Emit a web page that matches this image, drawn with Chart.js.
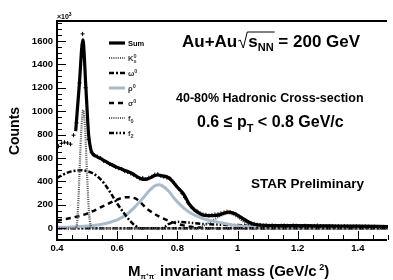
<!DOCTYPE html>
<html>
<head>
<meta charset="utf-8">
<script src="https://cdn.jsdelivr.net/npm/chart.js@4.4.0/dist/chart.umd.min.js"></script>
<style>
  html, body { margin: 0; padding: 0; background: #fff; }
  #wrap { width: 393px; height: 280px; }
</style>
</head>
<body>
<div id="wrap"><canvas id="massChart"></canvas></div>
<script>
// measured spectrum (crosses)
const dataMass = [0.405, 0.415, 0.425, 0.435, 0.445, 0.455, 0.465, 0.475, 0.485, 0.495,
    0.505, 0.515, 0.525, 0.535, 0.545, 0.555, 0.565, 0.575, 0.585, 0.595,
    0.605, 0.615, 0.625, 0.635, 0.645, 0.655, 0.665, 0.675, 0.685, 0.695,
    0.705, 0.715, 0.725, 0.735, 0.745, 0.755, 0.765, 0.775, 0.785, 0.795,
    0.805, 0.815, 0.825, 0.835, 0.845, 0.855, 0.865, 0.875, 0.885, 0.895,
    0.905, 0.915, 0.925, 0.935, 0.945, 0.955, 0.965, 0.975, 0.985, 0.995,
    1.005, 1.015, 1.025, 1.035, 1.045, 1.055, 1.065, 1.075, 1.085, 1.095,
    1.105, 1.115, 1.125, 1.135, 1.145, 1.155, 1.165, 1.175, 1.185, 1.195,
    1.205, 1.215, 1.225, 1.235, 1.245, 1.255, 1.265, 1.275, 1.285, 1.295,
    1.305, 1.315, 1.325, 1.335, 1.345, 1.355, 1.365, 1.375, 1.385, 1.395,
    1.405, 1.415, 1.425, 1.435, 1.445, 1.455, 1.465, 1.475, 1.485, 1.495];
const dataCounts = [700, 725, 735, 728, 718, 795, 900, 1240, 1660, 1200,
    760, 650, 625, 612, 600, 575, 565, 548, 540, 522,
    512, 505, 488, 480, 468, 455, 440, 425, 430, 420,
    432, 440, 458, 462, 448, 440, 432, 428, 400, 365,
    335, 300, 262, 218, 185, 160, 148, 130, 118, 115,
    108, 112, 118, 120, 128, 135, 142, 138, 130, 118,
    100, 82, 65, 52, 40, 38, 30, 28, 25, 24,
    22, 25, 22, 20, 22, 24, 22, 20, 24, 22,
    20, 18, 22, 20, 18, 20, 24, 20, 18, 16,
    20, 18, 16, 18, 15, 18, 16, 14, 15, 16,
    14, 12, 15, 14, 12, 14, 12, 10, 12, 10];

// fit sum
const sumMass = [0.462, 0.474, 0.486, 0.496, 0.505, 0.511, 0.516, 0.53, 0.55, 0.58, 0.60, 0.62, 0.65, 0.67,
    0.685, 0.70, 0.72, 0.735, 0.75, 0.765, 0.78, 0.80, 0.82, 0.84, 0.86, 0.88, 0.90, 0.93, 0.955,
    0.97, 0.985, 1.0, 1.02, 1.04, 1.06, 1.08, 1.1, 1.2, 1.3, 1.4, 1.5];
const sumCounts = [830, 1220, 1608, 1200, 800, 690, 645, 615, 588, 545, 520, 500, 468, 435,
    418, 420, 445, 455, 447, 440, 412, 350, 295, 205, 150, 118, 108, 110, 128,
    138, 130, 112, 80, 50, 32, 26, 24, 22, 20, 18, 15];

// components
const k0Mass = [0.40, 0.462, 0.468, 0.474, 0.48, 0.487, 0.494, 0.50, 0.506, 0.512, 0.516, 1.5];
const k0Counts = [0, 0, 80, 420, 800, 1010, 820, 450, 150, 20, 0, 0];

const omegaMass = [0.40, 0.42, 0.44, 0.46, 0.48, 0.50, 0.52, 0.54, 0.56, 0.58, 0.60, 0.62, 0.64, 0.66, 0.68, 1.5];
const omegaCounts = [430, 458, 480, 492, 495, 488, 468, 430, 372, 295, 212, 138, 72, 22, 0, 0];

const rhoMass = [0.40, 0.45, 0.50, 0.55, 0.60, 0.63, 0.66, 0.69, 0.71, 0.73, 0.74, 0.75, 0.77, 0.79,
    0.81, 0.83, 0.85, 0.87, 0.90, 0.95, 1.0, 1.05, 1.1, 1.15, 1.5];
const rhoCounts = [8, 12, 20, 35, 72, 115, 185, 270, 330, 368, 372, 362, 320, 255,
    200, 155, 122, 98, 72, 45, 22, 10, 4, 0, 0];

const sigmaMass = [0.40, 0.45, 0.50, 0.55, 0.60, 0.63, 0.66, 0.70, 0.74, 0.78, 0.82, 0.86, 0.90, 1.5];
const sigmaCounts = [65, 90, 125, 185, 245, 265, 255, 165, 100, 55, 25, 8, 0, 0];

const f0Mass = [0.40, 0.86, 0.88, 0.90, 0.92, 0.94, 0.96, 0.97, 0.98, 1.0, 1.02, 1.04, 1.06, 1.08, 1.5];
const f0Counts = [0, 0, 15, 40, 72, 102, 122, 127, 122, 95, 55, 25, 8, 0, 0];

const f2Mass = [0.40, 0.75, 0.77, 0.80, 0.83, 0.88, 0.95, 1.05, 1.2, 1.35, 1.5];
const f2Counts = [0, 0, 35, 55, 50, 38, 30, 25, 20, 16, 12];

const xTickValues = [0.4, 0.6, 0.8, 1.0, 1.2, 1.4];
const yTickValues = [0, 200, 400, 600, 800, 1000, 1200, 1400, 1600];

const FONT = '"Liberation Sans", Arial, Helvetica, sans-serif';
const pts = (xs, ys) => xs.map((x, i) => ({ x: x, y: ys[i] }));

function curve(label, xs, ys, color, width, dash, order) {
    return {
        label: label,
        data: pts(xs, ys),
        borderColor: color,
        borderWidth: width,
        borderDash: dash,
        pointRadius: 0,
        fill: false,
        cubicInterpolationMode: 'monotone',
        order: order
    };
}

// draws a run of text pieces on one baseline, returns end x
function rich(ctx, parts, x, y) {
    parts.forEach(p => {
        ctx.font = 'bold ' + p.size + 'px ' + FONT;
        ctx.fillText(p.t, x, y + (p.dy || 0));
        x += ctx.measureText(p.t).width;
    });
    return x;
}

const overlay = {
    id: 'overlay',
    afterDraw(chart) {
        const ctx = chart.ctx;
        const a = chart.chartArea;
        const xs = chart.scales.x;
        const ys = chart.scales.y;
        ctx.save();
        ctx.globalAlpha = 1;
        ctx.setLineDash([]);
        ctx.fillStyle = '#000';
        ctx.strokeStyle = '#000';

        // frame
        ctx.lineWidth = 2;
        ctx.beginPath();
        ctx.moveTo(a.right - 1, a.top);
        ctx.lineTo(a.left, a.top);
        ctx.lineTo(a.left, a.bottom);
        ctx.lineTo(a.right - 1, a.bottom);
        ctx.stroke();

        // inward ticks
        ctx.lineWidth = 1;
        ctx.beginPath();
        for (let v = -100; v <= 1750; v += 50) {
            const py = Math.round(ys.getPixelForValue(v)) + 0.5;
            const len = yTickValues.includes(v) ? 9 : 5;
            ctx.moveTo(a.left, py);
            ctx.lineTo(a.left + len, py);
        }
        for (let k = 0; k <= 22; k++) {
            const v = 0.4 + k * 0.05;
            const px = Math.round(xs.getPixelForValue(v)) + 0.5;
            const len = (k % 4 === 0) ? 9 : 5;
            ctx.moveTo(px, a.bottom);
            ctx.lineTo(px, a.bottom - len);
        }
        ctx.stroke();

        // x10^3
        ctx.textAlign = 'left';
        ctx.textBaseline = 'alphabetic';
        rich(ctx, [{ t: '\u00d710', size: 7 }, { t: '3', size: 5, dy: -3 }], a.left, a.top - 2);

        // axis titles
        rich(ctx, [
            { t: 'M', size: 15 },
            { t: '\u03c0', size: 7, dy: 3 }, { t: '+', size: 5, dy: 0 },
            { t: '\u03c0', size: 7, dy: 3 }, { t: '-', size: 5, dy: 0 },
            { t: ' invariant mass (GeV/c', size: 15 },
            { t: ' 2', size: 9, dy: -6 },
            { t: ')', size: 15 }
        ], 128, 276);

        ctx.save();
        ctx.translate(19, 131);
        ctx.rotate(-Math.PI / 2);
        ctx.textAlign = 'center';
        ctx.font = 'bold 14px ' + FONT;
        ctx.fillText('Counts', 0, 0);
        ctx.restore();

        // annotations
        let ex = rich(ctx, [{ t: 'Au+Au', size: 17 }], 182, 47);
        ctx.lineWidth = 1;
        ctx.beginPath();
        ctx.moveTo(ex + 1, 41);
        ctx.lineTo(ex + 3, 40);
        ctx.lineTo(ex + 6, 48);
        ctx.lineTo(ex + 10, 32);
        const sx = ex + 11;
        ex = rich(ctx, [{ t: 's', size: 17 }, { t: 'NN', size: 11, dy: 4 }], sx, 47);
        ctx.lineTo(ex + 1, 32);
        ctx.stroke();
        rich(ctx, [{ t: ' = 200 GeV', size: 17 }], ex, 47);

        rich(ctx, [{ t: '40-80% Hadronic Cross-section', size: 12.5 }], 176, 102);
        rich(ctx, [{ t: '0.6 \u2264 p', size: 16 }, { t: 'T', size: 11, dy: 5 },
            { t: ' < 0.8 GeV/c', size: 16 }], 197, 127);
        rich(ctx, [{ t: 'STAR Preliminary', size: 13.5 }], 251, 188);

        // legend
        const rows = [
            ['Sum', [{ t: 'Sum', size: 7.5 }]],
            ['K0s', [{ t: 'K', size: 7.5 }, { t: 's', size: 5.5, dy: 2 }, { t: '0', size: 5.5, dy: -3, back: true }]],
            ['omega', [{ t: '\u03c9', size: 7.5 }, { t: '0', size: 5.5, dy: -3 }]],
            ['rho', [{ t: '\u03c1', size: 7.5 }, { t: '0', size: 5.5, dy: -3 }]],
            ['sigma', [{ t: '\u03c3', size: 7.5 }, { t: '0', size: 5.5, dy: -3 }]],
            ['f0', [{ t: 'f', size: 7.5 }, { t: '0', size: 5.5, dy: 2 }]],
            ['f2', [{ t: 'f', size: 7.5 }, { t: '2', size: 5.5, dy: 2 }]]
        ];
        rows.forEach((r, i) => {
            const ds = chart.data.datasets.find(d => d.label === r[0]);
            const ly = 43 + i * 15;
            ctx.save();
            ctx.strokeStyle = ds.borderColor;
            ctx.lineWidth = ds.borderWidth;
            ctx.setLineDash(ds.borderDash || []);
            ctx.beginPath();
            ctx.moveTo(109, ly);
            ctx.lineTo(125, ly);
            ctx.stroke();
            ctx.restore();
            ctx.fillStyle = i === 0 ? '#000' : '#333';
            let tx = 128;
            let lastX = tx;
            r[1].forEach(p => {
                ctx.font = 'bold ' + p.size + 'px ' + FONT;
                const px = p.back ? lastX : tx;
                ctx.fillText(p.t, px, ly + 3 + (p.dy || 0));
                lastX = px;
                if (!p.back) tx += ctx.measureText(p.t).width;
            });
        });
        ctx.restore();
    }
};

new Chart(document.getElementById('massChart'), {
    type: 'line',
    data: {
        datasets: [
            {
                label: 'data',
                data: pts(dataMass, dataCounts),
                showLine: false,
                pointStyle: 'cross',
                pointRadius: 2,
                borderColor: '#000',
                borderWidth: 1,
                order: 2
            },
            curve('Sum', sumMass, sumCounts, '#000', 3.2, [], 1),
            curve('K0s', k0Mass, k0Counts, '#555', 2.2, [1, 1.2], 3),
            curve('omega', omegaMass, omegaCounts, '#000', 2.5, [5, 2, 2, 2], 4),
            curve('rho', rhoMass, rhoCounts, '#a9bbc9', 3, [], 5),
            curve('sigma', sigmaMass, sigmaCounts, '#000', 2.5, [5, 4], 6),
            curve('f0', f0Mass, f0Counts, '#555', 2.2, [1, 1.2], 7),
            curve('f2', f2Mass, f2Counts, '#000', 2.5, [5, 2, 1.5, 2, 1.5, 2], 8)
        ]
    },
    options: {
        responsive: true,
        maintainAspectRatio: false,
        animation: false,
        layout: { padding: { top: 21, left: 0, right: 0, bottom: 0 } },
        plugins: {
            legend: { display: false },
            tooltip: { enabled: false }
        },
        scales: {
            x: {
                type: 'linear',
                min: 0.4,
                max: 1.5,
                grid: { display: false, drawTicks: false },
                border: { display: false },
                afterBuildTicks: s => { s.ticks = xTickValues.map(v => ({ value: v })); },
                afterFit: s => { s.height = 40; },
                ticks: {
                    color: '#000',
                    padding: 3,
                    maxRotation: 0,
                    font: { family: FONT, weight: 'bold', size: 9.5 },
                    callback: v => String(Math.round(v * 10) / 10)
                }
            },
            y: {
                min: -100,
                max: 1770,
                grid: { display: false, drawTicks: false },
                border: { display: false },
                afterBuildTicks: s => { s.ticks = yTickValues.map(v => ({ value: v })); },
                afterFit: s => { s.width = 57; },
                ticks: {
                    color: '#000',
                    padding: 4,
                    font: { family: FONT, weight: 'bold', size: 9.5 },
                    callback: v => String(v)
                }
            }
        }
    },
    plugins: [overlay]
});
</script>
</body>
</html>
